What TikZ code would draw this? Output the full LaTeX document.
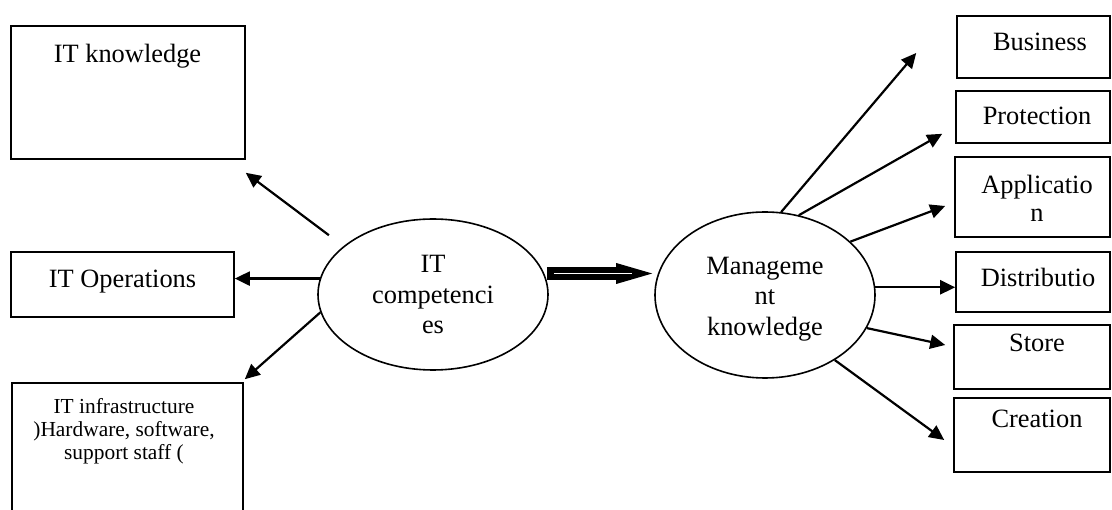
\documentclass[tikz,border=0pt]{standalone}
\usepackage{fontspec}
\setmainfont{Liberation Serif}
\usetikzlibrary{arrows.meta,shapes.geometric,calc}
\begin{document}
\begin{tikzpicture}[x=1pt,y=-1pt,
  box/.style={draw, rectangle, line width=1.6pt, inner sep=0pt},
  oval/.style={draw, ellipse, line width=1.6pt, inner sep=0pt, align=center,
    font=\fontsize{26.4}{30.5}\selectfont},
  lbl/.style={inner sep=0pt, anchor=base, font=\fontsize{26.4}{30.5}\selectfont},
  arr/.style={line width=2.2pt, -{Triangle[length=15pt,width=14pt]}},
  bigarrow/.style={line width=13pt, -{Triangle[length=36pt,width=21pt,line width=0pt]}},
  stripe/.style={white, line width=1.6pt}]
\useasboundingbox (0,0) rectangle (1112,510);

% left column boxes
\node[box, minimum width=234pt, minimum height=133pt] (kn)    at (128,92.5) {};
\node[box, minimum width=223pt, minimum height=65pt]  (ops)   at (122.5,284.5) {};
\node[box, minimum width=231pt, minimum height=132pt] (infra) at (127.5,449) {};
\node[lbl] (kn-t)  at (127.5,63) {IT knowledge};
\node[lbl] (ops-t) at (122.5,288) {IT Operations};
\node[inner sep=0pt, align=center, font=\fontsize{21.4}{23}\selectfont] (infra-t) at (124,431)
  {IT infrastructure\\)Hardware, software,\\support staff (\hspace{24pt}};

% the two ovals
\node[oval, minimum width=230pt, minimum height=151pt] (ic) at (433,294.5) {IT\\competenci\\es};
\node[oval, minimum width=220pt, minimum height=166pt] (mk) at (765,295)
  {\rule{0pt}{25pt}Manageme\\nt\hspace{16pt}\\knowledge};

% right column boxes
\node[box, minimum width=153pt, minimum height=62pt] (biz)   at (1033.5,47) {};
\node[box, minimum width=154pt, minimum height=52pt] (prot)  at (1033,117) {};
\node[box, minimum width=155pt, minimum height=80pt] (app)   at (1032.5,197) {};
\node[box, minimum width=154pt, minimum height=60pt] (dist)  at (1033,282) {};
\node[box, minimum width=156pt, minimum height=64pt] (store) at (1032,357) {};
\node[box, minimum width=156pt, minimum height=74pt] (cre)   at (1032,435) {};
\node[lbl] (biz-t)   at (1040,51)  {Business};
\node[lbl] (prot-t)  at (1037,125) {Protection};
\node[inner sep=0pt, align=center, font=\fontsize{26.4}{28.5}\selectfont] (app-t) at (1037,198.5)
  {Applicatio\\n\hspace{16pt}};
\node[lbl] (dist-t)  at (1038,287) {Distributio};
\node[lbl] (store-t) at (1037,352) {Store};
\node[lbl] (cre-t)   at (1037,428) {Creation};

% arrows out of IT competencies
\coordinate (kn-from) at ($(ic.150)+(-17,-9)$);
\coordinate (kn-to)   at ($(kn.south east)+(0,13)$);
\coordinate (infra-to) at ($(infra.north east)+(1,-3)$);
\draw[arr] (kn-from) -- (kn-to);
\draw[arr] (ic.172) -- (ic.172 -| ops.east);
\draw[arr] (ic.189.5) -- (infra-to);

% thick striped arrow between the ovals
\draw[bigarrow] ($(ic.east)+(-2,-21)$) -- ($(mk.west)+(-2,-21.5)$);
\draw[stripe] ($(ic.east)+(5,-21)$) -- ($(mk.west)+(-22,-21.5)$);

% arrows out of Management knowledge
\draw[arr] (mk.79.8)  -- ($(biz.west)+(-40,6)$);
\draw[arr] (mk.67.6)  -- ($(prot.south west)+(-13,-10)$);
\draw[arr] (mk.32)    -- ($(app.west)+(-9,9)$);
\draw[arr] (mk.4.2)   -- (mk.4.2 -| dist.west);
\draw[arr] (mk.342.6) -- ($(store.west)+(-8,-12)$);
\draw[arr] (mk.317)   -- ($(cre.west)+(-9,5)$);
\end{tikzpicture}
\end{document}
